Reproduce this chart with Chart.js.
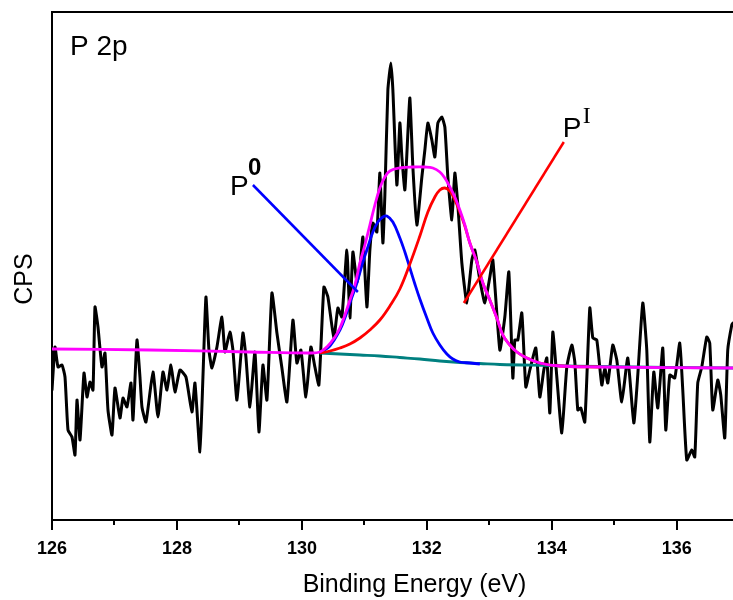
<!DOCTYPE html>
<html>
<head>
<meta charset="utf-8">
<script src="https://cdn.jsdelivr.net/npm/chart.js@4.4.1/dist/chart.umd.min.js"></script>
<style>
    html, body { margin: 0; padding: 0; background: #fff; overflow: hidden; }
    #wrap { width: 733px; height: 600px; position: relative; }
</style>
</head>
<body>
<div id="wrap"><canvas id="grafik"></canvas></div>
<script>
// measured P 2p spectrum
const rawEnergy = [126.000, 126.048, 126.096, 126.160, 126.208, 126.256, 126.320, 126.368, 126.400, 126.448,
    126.512, 126.560, 126.608, 126.656, 126.688, 126.736, 126.800, 126.848, 126.896, 126.960,
    127.008, 127.088, 127.136, 127.200, 127.264, 127.296, 127.360, 127.408, 127.440, 127.504,
    127.616, 127.696, 127.776, 127.840, 127.904, 127.968, 128.048, 128.144, 128.240, 128.288,
    128.368, 128.416, 128.464, 128.512, 128.560, 128.640, 128.720, 128.768, 128.848, 128.896,
    128.960, 129.056, 129.104, 129.168, 129.248, 129.312, 129.376, 129.440, 129.520, 129.600,
    129.680, 129.760, 129.856, 129.920, 129.984, 130.064, 130.144, 130.208, 130.272, 130.352,
    130.416, 130.512, 130.576, 130.640, 130.720, 130.768, 130.816, 130.880, 130.928, 130.976,
    131.040, 131.088, 131.136, 131.200, 131.248, 131.296, 131.328, 131.376, 131.424, 131.456,
    131.520, 131.568, 131.600, 131.648, 131.696, 131.728, 131.776, 131.840, 131.920, 131.968,
    132.016, 132.080, 132.128, 132.176, 132.240, 132.288, 132.336, 132.400, 132.448, 132.496,
    132.560, 132.640, 132.720, 132.768, 132.848, 132.928, 133.008, 133.056, 133.168, 133.248,
    133.312, 133.376, 133.408, 133.456, 133.520, 133.584, 133.648, 133.744, 133.808, 133.872,
    133.920, 133.968, 134.016, 134.080, 134.160, 134.240, 134.320, 134.368, 134.416, 134.464,
    134.528, 134.608, 134.656, 134.720, 134.800, 134.848, 134.896, 134.976, 135.040, 135.120,
    135.216, 135.312, 135.376, 135.456, 135.520, 135.568, 135.632, 135.696, 135.776, 135.824,
    135.888, 135.968, 136.048, 136.096, 136.160, 136.240, 136.288, 136.336, 136.400, 136.480,
    136.528, 136.576, 136.656, 136.704, 136.768, 136.816, 136.880, 136.900];
const rawCps = [1300, 1730, 1530, 1550, 1430, 900, 830, 650, 1200, 800,
    1470, 1230, 1380, 1300, 2130, 1930, 1530, 1670, 1100, 850,
    1320, 1020, 1220, 1130, 1370, 1000, 1800, 1430, 1130, 980,
    1480, 1030, 1480, 1300, 1550, 1280, 1500, 1430, 1080, 1370,
    680, 1430, 2230, 1700, 1520, 1730, 2030, 1680, 1880, 1700,
    1200, 1870, 1630, 1130, 1680, 880, 1550, 1200, 2270, 1870,
    1520, 1180, 2000, 1570, 1700, 1230, 1730, 1530, 1350, 2330,
    2230, 1820, 2120, 2030, 2700, 2020, 2680, 2380, 2520, 2830,
    2130, 2700, 2970, 2880, 3470, 2770, 3250, 4300, 4570, 4300,
    3350, 3970, 3630, 3300, 3870, 4220, 3530, 2950, 3430, 3700,
    3970, 3800, 3630, 3970, 4030, 3930, 3430, 3000, 3470, 3150,
    2570, 2170, 2600, 2700, 2400, 2170, 2430, 2600, 1700, 2030,
    2480, 1420, 1800, 1800, 2070, 1330, 1500, 1720, 1230, 1500,
    1620, 1070, 1880, 1430, 870, 1530, 1750, 1580, 1100, 1120,
    980, 2120, 1820, 1800, 1350, 1520, 1370, 1750, 1600, 1180,
    1620, 970, 1450, 2170, 1700, 780, 1480, 1120, 1720, 900,
    1450, 1420, 1770, 1300, 600, 700, 630, 1370, 1530, 1830,
    1770, 1100, 1400, 1250, 820, 1700, 1950, 1970];

// fitted envelope
const envEnergy = [126.000, 127.568, 129.168, 130.128, 130.288, 130.400, 130.528, 130.608, 130.688, 130.768,
    130.848, 130.928, 131.008, 131.088, 131.168, 131.248, 131.328, 131.408, 131.568, 131.776,
    131.968, 132.096, 132.208, 132.288, 132.368, 132.448, 132.528, 132.608, 132.688, 132.800,
    132.896, 133.008, 133.120, 133.216, 133.328, 133.440, 133.600, 133.808, 134.128, 134.768, 136.900];
const envCps = [1710, 1700, 1680, 1670, 1680, 1730, 1830, 1920, 2050, 2200,
    2350, 2570, 2750, 2950, 3150, 3320, 3430, 3490, 3520, 3530,
    3530, 3520, 3480, 3420, 3330, 3230, 3100, 2950, 2770, 2580,
    2370, 2200, 2020, 1850, 1750, 1680, 1620, 1570, 1540, 1530, 1520];

// P0 component
const p0Energy = [130.288, 130.448, 130.608, 130.688, 130.768, 130.880, 130.976, 131.040, 131.136, 131.216,
    131.296, 131.360, 131.456, 131.568, 131.648, 131.728, 131.808, 131.888, 132.000, 132.096,
    132.208, 132.320, 132.416, 132.528, 132.688, 132.848];
const p0Cps = [1670, 1740, 1900, 2020, 2170, 2370, 2580, 2700, 2880, 2980,
    3030, 3040, 2980, 2820, 2680, 2520, 2360, 2210, 2020, 1870,
    1750, 1660, 1610, 1580, 1570, 1560];

// PI component
const p1Energy = [130.288, 130.448, 130.608, 130.768, 130.928, 131.088, 131.248, 131.408, 131.568, 131.728,
    131.888, 132.016, 132.128, 132.208, 132.288, 132.368, 132.448, 132.528, 132.608, 132.688,
    132.800, 132.896, 133.008, 133.120, 133.216, 133.328, 133.440, 133.600, 133.808, 134.128, 134.768];
const p1Cps = [1670, 1690, 1720, 1760, 1820, 1900, 2000, 2140, 2310, 2560,
    2840, 3080, 3230, 3300, 3320, 3290, 3200, 3080, 2940, 2770,
    2580, 2370, 2200, 2020, 1850, 1750, 1680, 1620, 1570, 1540, 1530];

// background
const bgEnergy = [130.288, 130.608, 130.928, 131.248, 131.568, 131.888, 132.208, 132.528, 132.848, 133.168,
    133.968, 134.768, 136.900];
const bgCps = [1670, 1660, 1650, 1640, 1625, 1610, 1590, 1575, 1565, 1555, 1545, 1535, 1520];

const xTicks = [126, 128, 130, 132, 134, 136];

function pts(xs, ys) {
    return xs.map((v, i) => ({ x: v, y: ys[i] }));
}

const FONT = '"Liberation Sans", Arial, sans-serif';

const extras = {
    id: "extras",
    afterDraw(chart) {
        const { ctx, chartArea: a, scales } = chart;
        const px = v => scales.x.getPixelForValue(v);
        const py = v => scales.y.getPixelForValue(v);
        ctx.save();

        // top frame line
        ctx.strokeStyle = "#000";
        ctx.lineWidth = 2;
        ctx.beginPath();
        ctx.moveTo(a.left, a.top);
        ctx.lineTo(a.right, a.top);
        ctx.stroke();

        // major / minor ticks
        scales.x.ticks.forEach(t => {
            const xx = Math.round(px(t.value));
            const len = xTicks.includes(t.value) ? 10 : 5;
            ctx.beginPath();
            ctx.moveTo(xx, a.bottom);
            ctx.lineTo(xx, a.bottom + len);
            ctx.stroke();
        });

        // leader lines
        ctx.lineWidth = 2.5;
        ctx.strokeStyle = "#0000ff";
        ctx.beginPath();
        ctx.moveTo(px(129.216), py(3350));
        ctx.lineTo(px(130.896), py(2280));
        ctx.stroke();
        ctx.strokeStyle = "#ff0000";
        ctx.beginPath();
        ctx.moveTo(px(134.192), py(3780));
        ctx.lineTo(px(132.592), py(2170));
        ctx.stroke();

        // labels
        ctx.fillStyle = "#000";
        ctx.textBaseline = "alphabetic";
        ctx.textAlign = "left";
        ctx.font = "28px " + FONT;
        ctx.fillText("P 2p", px(126.288), py(4650));
        ctx.fillText("P", px(128.848), py(3250));
        ctx.fillText("P", px(134.176), py(3830));
        ctx.font = "bold 24px " + FONT;
        ctx.fillText("0", px(129.136), py(3450));
        ctx.font = '24px "Liberation Serif", "Times New Roman", serif';
        ctx.fillText("I", px(134.496), py(3970));

        // axis titles
        ctx.font = "25px " + FONT;
        ctx.textAlign = "center";
        ctx.fillText("Binding Energy (eV)", (a.left + a.right) / 2 + 22, a.bottom + 72);
        ctx.translate(32, (a.top + a.bottom) / 2 + 13);
        ctx.rotate(-Math.PI / 2);
        ctx.fillText("CPS", 0, 0);

        ctx.restore();
    }
};

const ctx = document.getElementById("grafik").getContext("2d");
new Chart(ctx, {
    type: "line",
    data: {
        datasets: [
            { label: "Envelope", data: pts(envEnergy, envCps), borderColor: "#ff00ff", borderWidth: 2.8, tension: 0.4 },
            { label: "PI", data: pts(p1Energy, p1Cps), borderColor: "#ff0000", borderWidth: 2.8, tension: 0.4 },
            { label: "P0", data: pts(p0Energy, p0Cps), borderColor: "#0000ff", borderWidth: 2.8, tension: 0.4 },
            { label: "Background", data: pts(bgEnergy, bgCps), borderColor: "#008080", borderWidth: 2.8, tension: 0.4 },
            { label: "Raw", data: pts(rawEnergy, rawCps), borderColor: "#000000", borderWidth: 3,
              tension: 0.15, borderJoinStyle: "round", borderCapStyle: "round" }
        ]
    },
    options: {
        responsive: true,
        maintainAspectRatio: false,
        animation: false,
        layout: { padding: { top: 12, left: 0, right: 0, bottom: 0 } },
        elements: { point: { radius: 0 } },
        plugins: {
            legend: { display: false },
            tooltip: { enabled: false }
        },
        scales: {
            x: {
                type: "linear",
                min: 126,
                max: 136.9,
                afterFit: s => { s.height = 80; },
                ticks: {
                    stepSize: 1,
                    includeBounds: false,
                    autoSkip: false,
                    maxRotation: 0,
                    padding: 18,
                    color: "#000",
                    font: { family: FONT, size: 18, weight: "bold" },
                    callback: v => xTicks.includes(v) ? String(v) : ""
                },
                grid: { drawOnChartArea: false, drawTicks: false },
                border: { display: true, color: "#000", width: 2 }
            },
            y: {
                min: 0,
                max: 5080,
                afterFit: s => { s.width = 52; },
                ticks: { display: false },
                grid: { drawOnChartArea: false, drawTicks: false },
                border: { display: true, color: "#000", width: 2 }
            }
        }
    },
    plugins: [extras]
});
</script>
</body>
</html>
